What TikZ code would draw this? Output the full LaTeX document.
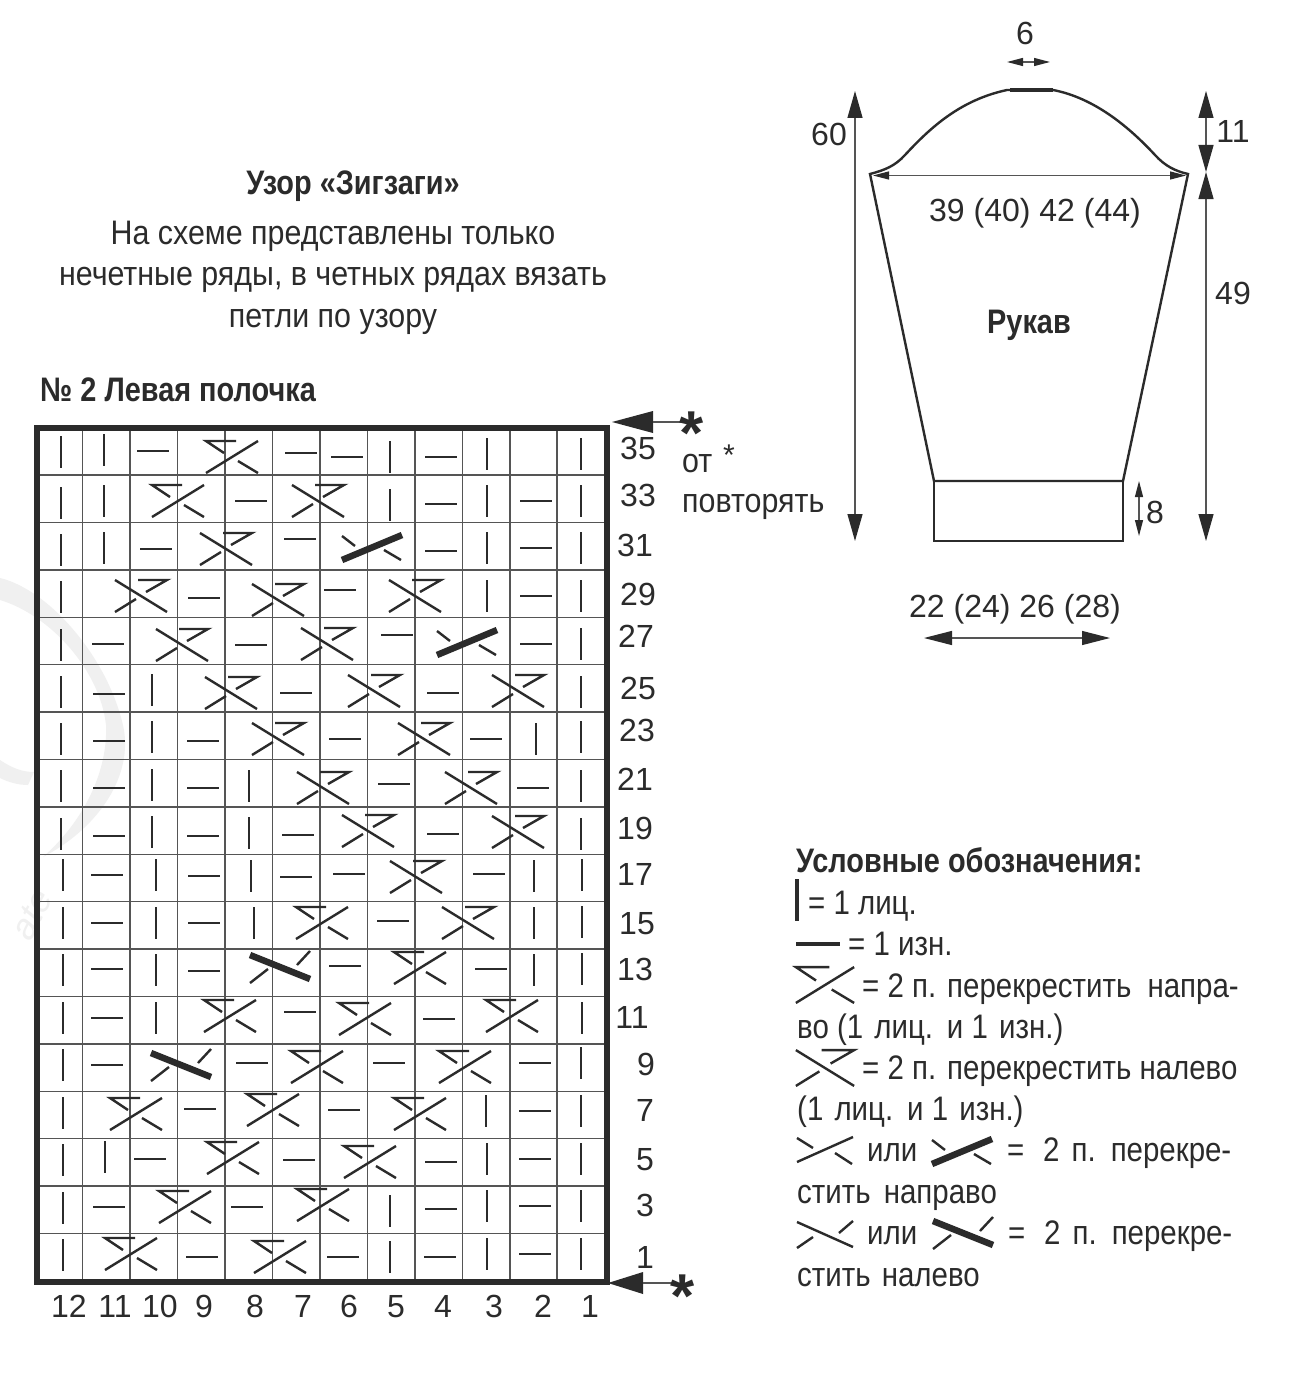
\documentclass[tikz,border=0pt]{standalone}
\usepackage{fontspec}
\setmainfont{Liberation Sans}
\newfontfamily\condh[FakeStretch=0.894]{Liberation Sans}
\newfontfamily\condl[FakeStretch=0.866]{Liberation Sans}
\newfontfamily\condb[FakeStretch=0.85]{Liberation Sans}
\usetikzlibrary{arrows.meta}
\definecolor{ink}{HTML}{2B2B2B}
\definecolor{rule}{HTML}{555555}
\definecolor{wmgray}{HTML}{F0F0F0}
\newcommand\fs[1]{\fontsize{#1}{#1}\selectfont}
\tikzset{
  x=1pt,y=-1pt,
  stitch/.style={draw=ink,line width=2.7pt},
  thin stitch/.style={draw=ink,line width=2.4pt},
  heavy/.style={draw=ink,line width=6.5pt},
  gridline/.style={draw=rule,line width=1.5pt},
  frame/.style={draw=ink,line width=6pt},
  dim/.style={draw=rule,line width=1.2pt},
  outline/.style={draw=ink,line width=2.4pt},
  num/.style={text=ink,inner sep=0pt,font=\fs{32},text height=23pt,text depth=0pt},
  txt/.style={text=ink,inner sep=0pt,font=\condh\fs{34},text height=24.5pt,text depth=0pt},
  btxt/.style={text=ink,inner sep=0pt,font=\condb\bfseries\fs{34},text height=24.5pt,text depth=0pt},
  ltxt/.style={text=ink,inner sep=0pt,font=\condl\fs{34},text height=24.5pt,text depth=0pt,anchor=west},
  starmark/.style={text=ink,inner sep=0pt,font=\bfseries\fs{62},text height=45pt,text depth=-25pt},
  bigtip/.style={{Triangle[length=27pt,width=15pt,color=ink]}-{Triangle[length=27pt,width=15pt,color=ink]}},
  smalltip/.style={{Triangle[length=16pt,width=8pt,color=ink]}-{Triangle[length=16pt,width=8pt,color=ink]}},
  crossA/.pic={
    \draw[thin stitch] (-26,16)--(26,-16);
    \draw[thin stitch] (6,4)--(26,16);
    \draw[thin stitch] (4,-16)--(-26,-16)--(-8,-4);
  },
  crossB/.pic={
    \draw[thin stitch] (-26,-16)--(26,16);
    \draw[thin stitch] (-26,16)--(-5,3);
    \draw[thin stitch] (-3,-16)--(26,-16)--(5,-4);
  },
  crossC/.pic={
    \draw[heavy] (-30,13)--(30,-12);
    \draw[thin stitch] (-30,-11)--(-17,-1);
    \draw[thin stitch] (12,3)--(29,13);
  },
  crossD/.pic={
    \draw[heavy] (-30,-12)--(30,12);
    \draw[thin stitch] (17,-2)--(30,-16);
    \draw[thin stitch] (-30,16)--(-12,2);
  },
  crossE/.pic={
    \draw[thin stitch] (-28,12)--(28,-13);
    \draw[thin stitch] (-28,-12)--(-12,-2);
    \draw[thin stitch] (10,3)--(27,14);
  },
  crossF/.pic={
    \draw[thin stitch] (-28,-12)--(28,13);
    \draw[thin stitch] (28,-13)--(14,-1);
    \draw[thin stitch] (-28,14)--(-12,3);
  },
}
\newcommand\kV[2]{\draw[stitch] (#1,#2-16)--(#1,#2+16);}
\newcommand\kH[2]{\draw[stitch] (#1-16,#2)--(#1+16,#2);}
\newcommand\kA[2]{\pic at (#1,#2) {crossA};}
\newcommand\kB[2]{\pic at (#1,#2) {crossB};}
\newcommand\kC[2]{\pic at (#1,#2) {crossC};}
\newcommand\kD[2]{\pic at (#1,#2) {crossD};}
\begin{document}
\begin{tikzpicture}
\path[use as bounding box,fill=white] (0,0) rectangle (1304,1375);
% watermark
\fill[wmgray] (0,578) .. controls (50,590) and (110,660) .. (124,730)
  .. controls (132,780) and (95,830) .. (43,857)
  .. controls (85,820) and (108,770) .. (106,725)
  .. controls (100,670) and (50,615) .. (0,600) -- cycle;
\fill[wmgray] (0,760) .. controls (12,768) and (22,772) .. (34,772) -- (28,785) .. controls (18,785) and (8,782) .. (0,778) -- cycle;
\node[text=wmgray,inner sep=0pt,rotate=62,font=\itshape\fs{36}] (wm) at (32,915) {ate};
% grid
\foreach \k in {0,...,10} \draw[gridline] ({82.7+47.45*\k},428) -- ({82.7+47.45*\k},1282);
\foreach \k in {1,...,17} \draw[gridline] (37,{427.7+47.4*\k}) -- (607,{427.7+47.4*\k});
\draw[frame] (36.7,427.7) rectangle (606.7,1282);
% row 35
\kV{61}{452}\kV{104}{450}\kH{153}{451}\kA{232}{457}\kH{301}{453}\kH{347}{457}\kV{390}{457}\kH{441}{457}\kV{487}{454}\kV{581}{454}
% row 33
\kV{61}{503}\kV{104}{501}\kA{178}{501}\kH{251}{501}\kB{318}{501}\kV{390}{505}\kH{441}{504}\kV{487}{501}\kH{536}{501}\kV{581}{501}
% row 31
\kV{61}{550}\kV{104}{548}\kH{156}{549}\kB{226}{549}\kH{300}{539}\kC{372}{547}\kH{441}{551}\kV{487}{548}\kH{536}{548}\kV{581}{548}
% row 29
\kV{61}{597}\kB{141}{596}\kH{204}{598}\kB{278}{600}\kH{340}{590}\kB{415}{596}\kV{487}{596}\kH{536}{596}\kV{581}{596}
% row 27
\kV{61}{645}\kH{108}{644}\kB{182}{645}\kH{251}{645}\kB{327}{644}\kH{397}{635}\kC{467}{642}\kH{536}{644}\kV{581}{644}
% row 25
\kV{61}{692}\kH{109}{694}\kV{152}{690}\kB{231}{693}\kH{296}{693}\kB{374}{691}\kH{443}{693}\kB{518}{691}\kV{581}{692}
% row 23
\kV{61}{739}\kH{109}{741}\kV{152}{737}\kH{203}{741}\kB{278}{739}\kH{345}{739}\kB{424}{739}\kH{486}{739}\kV{536}{739}\kV{581}{737}
% row 21
\kV{61}{786}\kH{109}{788}\kV{152}{785}\kH{203}{788}\kV{249}{786}\kB{323}{788}\kH{394}{784}\kB{471}{788}\kH{533}{788}\kV{581}{786}
% row 19
\kV{61}{834}\kH{109}{836}\kV{152}{832}\kH{203}{836}\kV{249}{833}\kH{298}{835}\kB{368}{831}\kH{443}{834}\kB{518}{832}\kV{581}{834}
% row 17
\kV{63}{875}\kH{107}{875}\kV{156}{875}\kH{204}{876}\kV{251}{876}\kH{296}{877}\kH{349}{874}\kB{416}{877}\kH{489}{874}\kV{534}{876}\kV{582}{875}
% row 15
\kV{63}{923}\kH{107}{923}\kV{156}{923}\kH{204}{923}\kV{254}{923}\kA{322}{923}\kH{393}{921}\kB{468}{923}\kV{534}{923}\kV{582}{922}
% row 13
\kV{63}{970}\kH{107}{969}\kV{156}{970}\kH{204}{971}\kD{280}{967}\kH{345}{966}\kA{420}{968}\kH{491}{969}\kV{534}{970}\kV{582}{969}
% row 11
\kV{63}{1018}\kH{107}{1018}\kV{156}{1018}\kA{230}{1016}\kH{300}{1012}\kA{365}{1019}\kH{439}{1019}\kA{512}{1016}\kV{582}{1018}
% row 9
\kV{63}{1065}\kH{107}{1065}\kD{181}{1065}\kH{252}{1063}\kA{317}{1067}\kH{389}{1063}\kA{465}{1067}\kH{535}{1063}\kV{581}{1063}
% row 7
\kV{63}{1113}\kA{136}{1114}\kH{200}{1109}\kA{273}{1110}\kH{344}{1110}\kA{420}{1114}\kV{486}{1111}\kH{535}{1111}\kV{581}{1111}
% row 5
\kV{63}{1160}\kV{105}{1157}\kH{150}{1159}\kA{233}{1158}\kH{299}{1160}\kA{370}{1162}\kH{441}{1162}\kV{487}{1159}\kH{535}{1159}\kV{581}{1159}
% row 3
\kV{63}{1208}\kH{109}{1207}\kA{185}{1207}\kH{247}{1207}\kA{323}{1205}\kV{390}{1211}\kH{441}{1209}\kV{487}{1206}\kH{535}{1206}\kV{581}{1206}
% row 1
\kV{63}{1255}\kA{131}{1254}\kH{202}{1257}\kA{280}{1257}\kH{343}{1257}\kV{390}{1257}\kH{440}{1257}\kV{487}{1254}\kH{535}{1254}\kV{581}{1254}
% row numbers
\foreach \t/\x/\y in {35/638/448,33/638/495,31/635/545,29/638/594,27/636/636,25/638/688,23/637/730,21/635/779,19/635/828,17/635/874,15/637/923,13/635/969,11/632/1017,9/646/1064,7/645/1110,5/645/1159,3/645/1205,1/645/1257}
  \node[num] (r\t) at (\x,\y) {\t};
\foreach \t/\x in {12/69,11/115,10/160,9/204,8/255,7/303,6/349,5/396,4/443,3/494,2/543,1/590}
  \node[num] (c\t) at (\x,1306) {\t};
% repeat markers
\coordinate (s1end) at (685,422);
\coordinate (s2end) at (678,1283);
\fill[ink] (612,422)--(653,411)--(653,433)--cycle;
\draw[dim] (653,422)--(s1end);
\fill[ink] (608,1283)--(643,1272)--(643,1294)--cycle;
\draw[dim] (643,1283)--(s2end);
\node[starmark] (s1) at (692,432) {*};
\node[starmark] (s2) at (683,1295) {*};
\node[ltxt,font=\condh\fs{34}] (ot) at (682,460) {от};
\node[text=ink,inner sep=0pt,font=\fs{30},text height=20pt,text depth=-8pt] (otstar) at (729,455) {*};
\node[ltxt,font=\condh\fs{34}] (povt) at (682,500) {повторять};
% headings
\node[btxt] (h1) at (353,182) {Узор «Зигзаги»};
\node[txt] (h2) at (333,232) {На схеме представлены только};
\node[txt] (h3) at (333,273) {нечетные ряды, в четных рядах вязать};
\node[txt] (h4) at (333,315) {петли по узору};
\node[btxt,anchor=west] (h5) at (40,389) {№ 2 Левая полочка};
% sleeve
\draw[outline] (870,174) .. controls (885,170) and (895,166) .. (905,155)
  .. controls (930,128) and (960,100) .. (1007,90) -- (1053,90)
  .. controls (1095,98) and (1130,128) .. (1155,155)
  .. controls (1165,166) and (1175,171) .. (1188,174)
  -- (1123,481) -- (934,481) -- cycle;
\draw[draw=ink,line width=3.6pt] (1010,90)--(1053,90);
\draw[outline] (934,481) rectangle (1123,541);
\coordinate (a60t) at (855,91); \coordinate (a60b) at (855,541);
\draw[dim,bigtip] (a60t)--(a60b);
\coordinate (a6l) at (1007,62); \coordinate (a6r) at (1050,62);
\draw[dim,smalltip] (a6l)--(a6r);
\coordinate (a39l) at (873,175.5); \coordinate (a39r) at (1186,175.5);
\draw[dim,smalltip] (a39l)--(a39r);
\coordinate (a11t) at (1206,91); \coordinate (a11b) at (1206,172);
\coordinate (a49b) at (1206,541);
\draw[dim,bigtip] (a11t)--(a11b);
\draw[dim,bigtip] (a11b)--(a49b);
\coordinate (a8t) at (1139,481); \coordinate (a8b) at (1139,536);
\draw[dim,smalltip] (a8t)--(a8b);
\coordinate (a22l) at (924,638); \coordinate (a22r) at (1110,638);
\draw[dim,{Triangle[length=28pt,width=14pt,color=ink]}-{Triangle[length=28pt,width=14pt,color=ink]}] (a22l)--(a22r);
\node[num] (l6) at (1025,33) {6};
\node[num] (l60) at (829,134) {60};
\node[num] (l11) at (1233,131) {11};
\node[num] (l39) at (1035,210) {39 (40) 42 (44)};
\node[num] (l49) at (1233,293) {49};
\node[btxt] (l5) at (1029,321) {Рукав};
\node[num] (l8) at (1155,512) {8};
\node[num] (l22) at (1015,606) {22 (24) 26 (28)};
% legend
\node[btxt,anchor=west] (t0) at (796,860) {Условные обозначения:};
\draw[draw=ink,line width=4pt] (797,879)--(797,921);
\node[ltxt] (t1) at (808,902) {= 1 лиц.};
\draw[draw=ink,line width=4pt] (796,944)--(840,944);
\node[ltxt] (t2) at (848,943) {= 1 изн.};
\pic[scale=1.12] at (825,985) {crossA};
\node[ltxt] (t3) at (862,985) {= 2 п. перекрестить\hspace{8pt} напра-};
\node[ltxt] (t4) at (797,1026) {во (1\hspace{3pt} лиц.\hspace{3pt} и 1\hspace{3pt} изн.)};
\pic[scale=1.12] at (825,1068) {crossB};
\node[ltxt] (t5) at (862,1067) {= 2 п. перекрестить налево};
\node[ltxt] (t6) at (797,1108) {(1\hspace{3pt} лиц.\hspace{3pt} и 1\hspace{3pt} изн.)};
\pic at (825,1150) {crossE};
\node[ltxt] (t7a) at (867,1149) {или};
\pic at (962,1151) {crossC};
\node[ltxt] (t7b) at (1007,1149) {=};
\node[ltxt] (t7c) at (1043,1149) {2\hspace{4pt} п.\hspace{4pt} перекре-};
\node[ltxt] (t8) at (797,1191) {стить\hspace{5pt} направо};
\pic at (825,1234) {crossF};
\node[ltxt] (t9a) at (867,1232) {или};
\pic at (963,1233) {crossD};
\node[ltxt] (t9b) at (1008,1232) {=};
\node[ltxt] (t9c) at (1044,1232) {2\hspace{4pt} п.\hspace{4pt} перекре-};
\node[ltxt] (t10) at (797,1274) {стить\hspace{3pt} налево};
\end{tikzpicture}
\end{document}
